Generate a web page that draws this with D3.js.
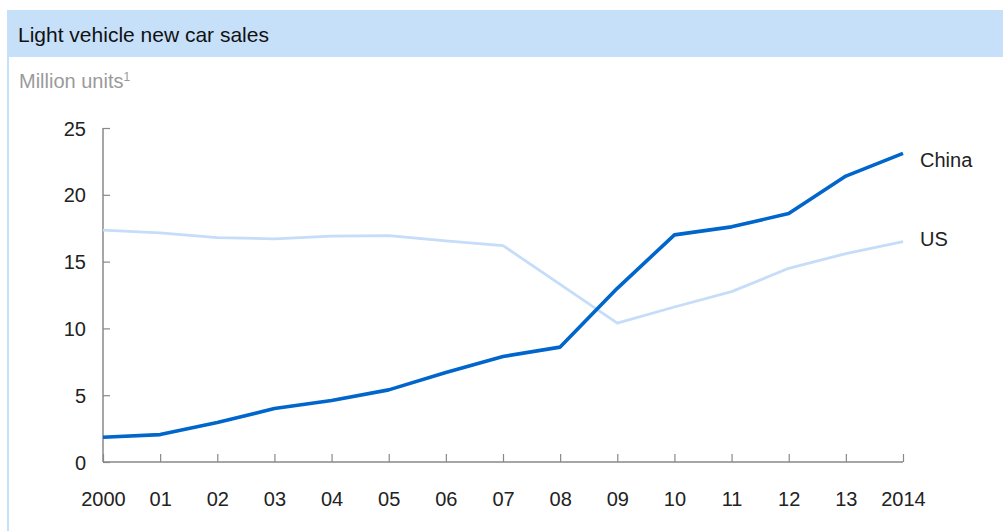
<!DOCTYPE html>
<html><head><meta charset="utf-8">
<script src="https://cdn.jsdelivr.net/npm/d3@7"></script>
<style>body{margin:0;background:#fff;}svg{display:block;font-family:"Liberation Sans",Arial,Helvetica,sans-serif;}</style>
</head><body><svg id="c" width="1003" height="531"></svg>
<script>
const years = [2000,2001,2002,2003,2004,2005,2006,2007,2008,2009,2010,2011,2012,2013,2014];
const yearLabels = ["2000","01","02","03","04","05","06","07","08","09","10","11","12","13","2014"];
const china = [1.85,2.05,2.95,4.0,4.6,5.4,6.7,7.9,8.6,13.0,17.0,17.6,18.6,21.4,23.1];
const us = [17.35,17.15,16.8,16.7,16.9,16.95,16.55,16.2,13.3,10.4,11.6,12.75,14.5,15.6,16.5];
const yTicks = [0,5,10,15,20,25];

const svg = d3.select("#c");
svg.append("rect").attr("x",7).attr("y",10).attr("width",996).attr("height",47).attr("fill","#c7e0fa");
svg.append("rect").attr("x",7).attr("y",57).attr("width",2).attr("height",474).attr("fill","#c7e0fa");
svg.append("text").attr("x",18).attr("y",42).attr("font-size",21).attr("fill","#111").text("Light vehicle new car sales");
const sub = svg.append("text").attr("x",19).attr("y",88).attr("font-size",20).attr("fill","#9a9a9a").text("Million units");
sub.append("tspan").attr("font-size",12).attr("dy",-7).text("1");

const x = d3.scaleLinear().domain([2000,2014]).range([103,903]);
const y = d3.scaleLinear().domain([0,25]).range([462,128]);

const ya = svg.append("g").attr("transform","translate(103,0)")
  .call(d3.axisRight(y).tickValues(yTicks).tickSize(7).tickFormat(d3.format("d")));
ya.select(".domain").attr("stroke","#888").attr("stroke-width",1.5).attr("d","M0,"+y(25)+"V"+y(0));
ya.selectAll(".tick line").attr("stroke","#888").attr("stroke-width",1.2);
ya.selectAll(".tick text").attr("x",-17).attr("text-anchor","end").attr("font-size",20).attr("fill","#222").attr("dy","0.35em");

const xa = svg.append("g").attr("transform","translate(0,462)")
  .call(d3.axisTop(x).tickValues(years).tickSize(8).tickFormat((d,i)=>yearLabels[i]));
xa.select(".domain").attr("stroke","#888").attr("stroke-width",1.5).attr("d","M"+x(2000)+",0H"+x(2014));
xa.selectAll(".tick line").attr("stroke","#888").attr("stroke-width",1.2);
xa.selectAll(".tick text").attr("y",44).attr("dy",0).attr("font-size",20).attr("fill","#222");

const line = d3.line().x((d,i)=>x(years[i])).y(d=>y(d));
svg.append("path").datum(us).attr("d",line).attr("fill","none").attr("stroke","#c5ddf8").attr("stroke-width",2.8).attr("stroke-linejoin","round");
svg.append("path").datum(china).attr("d",line).attr("fill","none").attr("stroke","#0066cc").attr("stroke-width",3.6).attr("stroke-linejoin","round");

svg.append("text").attr("x",920).attr("y",y(china[14])+14).attr("font-size",20).attr("fill","#222").text("China");
svg.append("text").attr("x",920).attr("y",y(us[14])+4).attr("font-size",20).attr("fill","#222").text("US");
</script></body></html>
